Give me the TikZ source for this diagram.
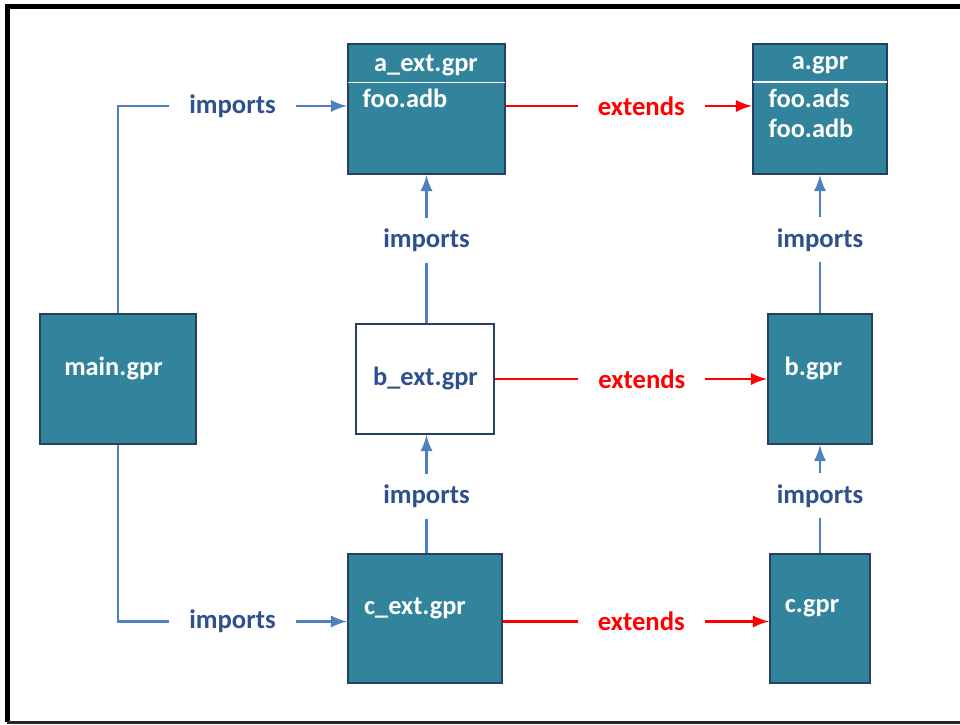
\documentclass[tikz,border=0pt]{standalone}
\usepackage{fontspec}
\setmainfont{Carlito}
\usepackage{tikz}

\definecolor{tealfill}{RGB}{49,132,155}
\definecolor{tealedge}{RGB}{36,64,98}
\definecolor{linkblue}{RGB}{79,129,189}
\definecolor{textblue}{RGB}{46,80,140}

\begin{document}
\begin{tikzpicture}[
    prj/.style={draw=tealedge, fill=tealfill, line width=0.6pt, inner sep=0pt},
    prjtext/.style={text=white, font=\fontsize{7.5}{9}\selectfont\bfseries, inner sep=0pt},
    imp/.style={draw=linkblue, line width=0.6pt, -latex},
    ext/.style={draw=red, line width=0.6pt, -latex},
    implbl/.style={fill=white, text=textblue, font=\fontsize{7.6}{9}\selectfont\bfseries, inner xsep=0.2cm, inner ysep=0.11cm},
    extlbl/.style={fill=white, text=red, font=\fontsize{7.6}{9}\selectfont\bfseries, inner xsep=0.2cm, inner ysep=0.11cm}]

    \useasboundingbox (0,0) rectangle (9.6,-7.25);
    \clip (0,0) rectangle (9.6,-7.25);

    % frame
    \draw[line width=1.6pt] (0.075,-7.22) -- (0.075,-0.065) -- (9.8,-0.065);
    \draw[line width=0.7pt, black!85] (0.075,-7.225) -- (9.8,-7.225);

    % projects
    \node[prj, minimum width=1.57cm, minimum height=1.30cm] (aext) at (4.265,-1.09) {};
    \node[prj, minimum width=1.34cm, minimum height=1.30cm] (a) at (8.20,-1.09) {};
    \node[prj, minimum width=1.56cm, minimum height=1.30cm] (main) at (1.18,-3.79) {};
    \node[prj, fill=white, minimum width=1.38cm, minimum height=1.10cm] (bext) at (4.25,-3.79) {};
    \node[prj, minimum width=1.04cm, minimum height=1.30cm] (b) at (8.20,-3.79) {};
    \node[prj, minimum width=1.54cm, minimum height=1.29cm] (cext) at (4.25,-6.185) {};
    \node[prj, minimum width=1.00cm, minimum height=1.29cm] (c) at (8.20,-6.185) {};

    % header rules
    \draw[white, line width=0.5pt] ([xshift=0.3pt]aext.west |- 0,-0.825) -- ([xshift=-0.3pt]aext.east |- 0,-0.825);
    \draw[white, line width=0.5pt] ([xshift=0.3pt]a.west |- 0,-0.82) -- ([xshift=-0.3pt]a.east |- 0,-0.82);

    % texts
    \node[prjtext] (aexttitle) at (4.26,-0.65) {a\_ext.gpr};
    \node[prjtext, anchor=west] (aextfile) at (3.62,-0.98) {foo.adb};
    \node[prjtext] (atitle) at (8.20,-0.65) {a.gpr};
    \node[prjtext, anchor=west] (afile1) at (7.68,-0.98) {foo.ads};
    \node[prjtext, anchor=west] (afile2) at (7.68,-1.28) {foo.adb};
    \node[prjtext] (maintext) at (1.135,-3.68) {main.gpr};
    \node[prjtext, text=textblue] (bexttext) at (4.255,-3.78) {b\_ext.gpr};
    \node[prjtext] (btext) at (8.135,-3.68) {b.gpr};
    \node[prjtext] (cexttext) at (4.15,-6.08) {c\_ext.gpr};
    \node[prjtext] (ctext) at (8.12,-6.08) {c.gpr};

    % imports
    \draw[imp] (main.north) |- node[implbl, pos=0.75] {imports} ([yshift=0.03cm]aext.west);
    \draw[imp] (main.south) |- node[implbl, pos=0.75] {imports} ([yshift=-0.03cm]cext.west);
    \draw[imp] (bext.north -| aext.south) -- node[implbl, pos=0.56] {imports} (aext.south);
    \draw[imp] (cext.north -| aext.south) -- node[implbl, pos=0.48] {imports} (bext.south -| aext.south);
    \draw[imp] (b.north) -- node[implbl, pos=0.53] {imports} (a.south);
    \draw[imp] (c.north) -- node[implbl, pos=0.53] {imports} (b.south);

    % extends
    \draw[ext] ([yshift=0.03cm]aext.east) -- node[extlbl, pos=0.55] {extends} ([yshift=0.03cm]a.west);
    \draw[ext] (bext.east) -- node[extlbl, pos=0.54] {extends} (b.west);
    \draw[ext] ([yshift=-0.03cm]cext.east) -- node[extlbl, pos=0.52] {extends} ([yshift=-0.03cm]c.west);

\end{tikzpicture}
\end{document}
